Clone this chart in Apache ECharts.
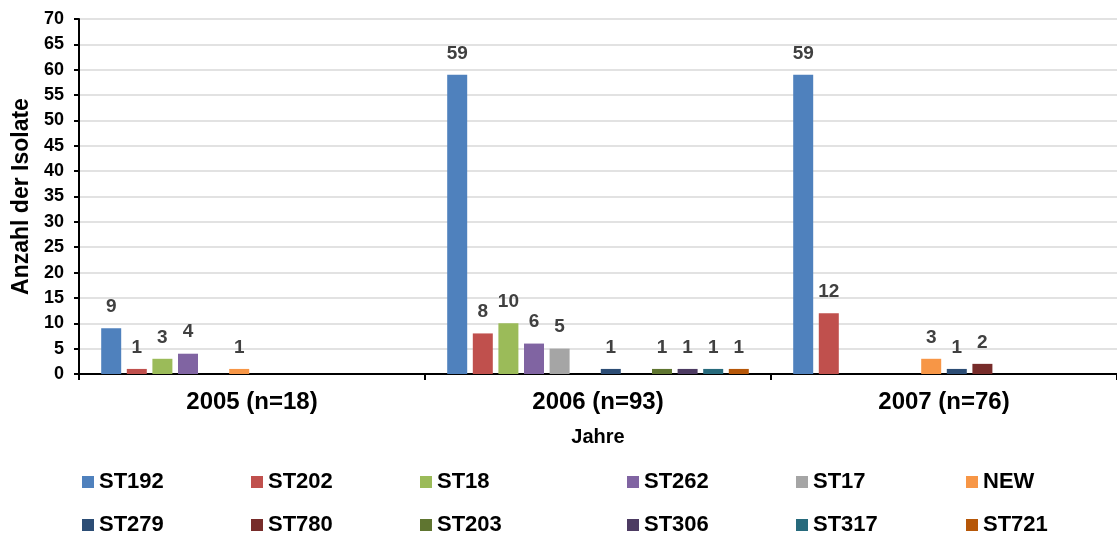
<!DOCTYPE html>
<html>
<head>
<meta charset="utf-8">
<script src="https://cdn.jsdelivr.net/npm/echarts@6/dist/echarts.min.js"></script>
<style>
  html, body { margin: 0; padding: 0; background: #fff; }
  #chart { width: 1117px; height: 536px; }
</style>
</head>
<body>
<div id="chart"></div>
<script>
// Jahre und Anzahl der Isolate je Sequenztyp
const years = ['2005 (n=18)', '2006 (n=93)', '2007 (n=76)'];
const seriesNames = ['ST192', 'ST202', 'ST18', 'ST262', 'ST17', 'NEW',
                     'ST279', 'ST780', 'ST203', 'ST306', 'ST317', 'ST721'];
const ST192 = [9, 59, 59];
const ST202 = [1, 8, 12];
const ST18  = [3, 10, 0];
const ST262 = [4, 6, 0];
const ST17  = [0, 5, 0];
const NEW   = [1, 0, 3];
const ST279 = [0, 1, 1];
const ST780 = [0, 0, 2];
const ST203 = [0, 1, 0];
const ST306 = [0, 1, 0];
const ST317 = [0, 1, 0];
const ST721 = [0, 1, 0];
const yTicks = { min: 0, max: 70, interval: 5 };

const values = [ST192, ST202, ST18, ST262, ST17, NEW, ST279, ST780, ST203, ST306, ST317, ST721];
const colors = ['#4F81BD', '#C0504D', '#9BBB59', '#8064A2', '#A5A5A5', '#F79646',
                '#2C4D75', '#772C2A', '#5F7530', '#4D3B62', '#276A7C', '#B65708'];

const font = '"Liberation Sans", Arial, sans-serif';

// legend: two rows of six entries, fixed column positions
const legendCols = [82, 251, 420, 627, 796, 966];
const legendRows = [471, 514];
const legends = seriesNames.map((name, i) => ({
  left: legendCols[i % 6],
  top: legendRows[Math.floor(i / 6)],
  padding: 0,
  itemWidth: 12,
  itemHeight: 12,
  itemGap: 0,
  icon: 'rect',
  data: [name],
  textStyle: { fontSize: 22, fontWeight: 'bold', color: '#000', fontFamily: font }
}));

const chart = echarts.init(document.getElementById('chart'), null, { renderer: 'canvas' });
chart.setOption({
  animation: false,
  color: colors,
  textStyle: { fontFamily: font },
  grid: { left: 79, right: 0, top: 19, bottom: 162, outerBoundsMode: 'none' },
  legend: legends,
  xAxis: {
    type: 'category',
    data: years,
    name: 'Jahre',
    nameLocation: 'middle',
    nameGap: 53,
    nameTextStyle: { fontSize: 20, fontWeight: 'bold', color: '#000', fontFamily: font },
    axisLine: { lineStyle: { color: '#000', width: 2 } },
    axisTick: { show: true, length: 6, lineStyle: { color: '#000', width: 2 } },
    axisLabel: { fontSize: 24, fontWeight: 'bold', color: '#000', margin: 16, fontFamily: font }
  },
  yAxis: {
    type: 'value',
    min: yTicks.min,
    max: yTicks.max,
    interval: yTicks.interval,
    name: 'Anzahl der Isolate',
    nameLocation: 'middle',
    nameGap: 45,
    nameRotate: 90,
    nameTextStyle: { fontSize: 23, fontWeight: 'bold', color: '#000', fontFamily: font },
    axisLine: { show: true, lineStyle: { color: '#000', width: 2 } },
    axisTick: { show: true, length: 5, lineStyle: { color: '#000', width: 2 } },
    axisLabel: { fontSize: 18, fontWeight: 'bold', color: '#000', margin: 15, fontFamily: font },
    splitLine: { lineStyle: { color: '#D9D9D9', width: 1.5 } }
  },
  series: seriesNames.map((name, i) => ({
    name: name,
    type: 'bar',
    data: values[i],
    barWidth: 20,
    barGap: '28%',
    label: {
      show: true,
      position: 'top',
      distance: 12,
      fontSize: 19,
      fontWeight: 'bold',
      color: '#404040',
      fontFamily: font,
      formatter: p => (p.value ? String(p.value) : '')
    }
  }))
});
</script>
</body>
</html>
